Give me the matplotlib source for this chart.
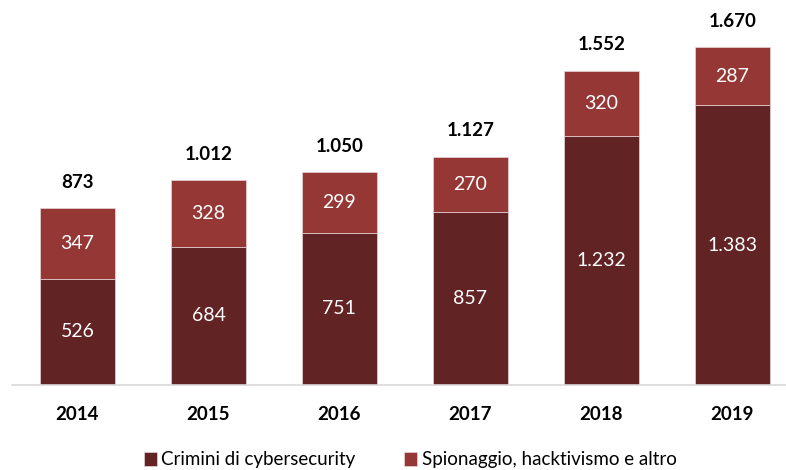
import matplotlib
matplotlib.use('Agg')
import matplotlib.pyplot as plt
import numpy as np

years = ['2014', '2015', '2016', '2017', '2018', '2019']
crimini = [526, 684, 751, 857, 1232, 1383]
spionaggio = [347, 328, 299, 270, 320, 287]
totali = [873, 1012, 1050, 1127, 1552, 1670]

c_dark = '#622325'
c_light = '#953735'

plt.rcParams['font.family'] = ['Lato', 'DejaVu Sans']


def fmt(v):
    # thousands separator with a dot, Italian style
    return f'{v:,}'.replace(',', '.')


fig = plt.figure(figsize=(7.86, 4.70), dpi=100)
ax = fig.add_axes([12 / 786, 85 / 470, 774 / 786, 385 / 470])

x = np.arange(len(years))
w = 0.575
ax.bar(x, crimini, w, color=c_dark, edgecolor='#e6d6d6', linewidth=0.5,
       label='Crimini di cybersecurity')
ax.bar(x, spionaggio, w, bottom=crimini, color=c_light, edgecolor='#e6d6d6',
       linewidth=0.5, label='Spionaggio, hacktivismo e altro')

for i in range(len(years)):
    ax.text(x[i], crimini[i] / 2, fmt(crimini[i]), ha='center', va='center',
            color='white', fontsize=14)
    ax.text(x[i], crimini[i] + spionaggio[i] / 2, fmt(spionaggio[i]),
            ha='center', va='center', color='white', fontsize=14)
    ax.text(x[i], totali[i] + 128, fmt(totali[i]), ha='center', va='center',
            color='black', fontsize=13.5, fontweight='bold')

ax.set_xlim(-0.5, 5.41)
ax.set_ylim(0, 1902)
ax.set_yticks([])
ax.set_xticks(x)
ax.set_xticklabels(years, fontsize=13.5, fontweight='bold')
ax.tick_params(axis='x', length=0, pad=15)
for s in ['top', 'right', 'left']:
    ax.spines[s].set_visible(False)
ax.spines['bottom'].set_color('#d9d9d9')
ax.spines['bottom'].set_linewidth(1.2)

fig.legend(loc='center', bbox_to_anchor=(0.522, 10 / 470), ncol=2,
           frameon=False, fontsize=13.5, handlelength=0.7, handleheight=0.7,
           handletextpad=0.25, columnspacing=2.6)

fig.savefig('out.png', dpi=100)
